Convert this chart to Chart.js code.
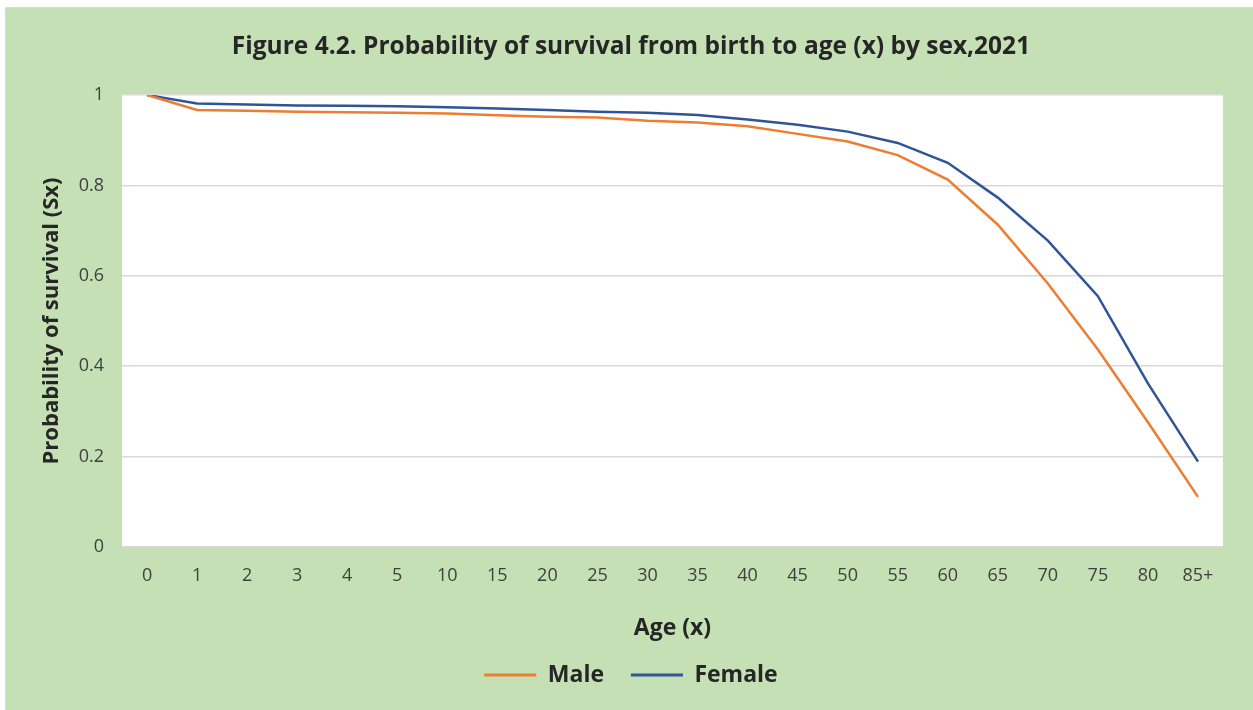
<!DOCTYPE html>
<html>
<head>
<meta charset="utf-8">
<script src="https://cdn.jsdelivr.net/npm/chart.js@4.4.0/dist/chart.umd.min.js"></script>
<style>
html,body{margin:0;padding:0;background:#ffffff;}
#wrap{position:absolute;left:0;top:0;width:1253px;height:710px;}
canvas{display:block;}
</style>
</head>
<body>
<div id="wrap"><canvas id="c" width="1253" height="710"></canvas></div>
<script>
const categories = ["0","1","2","3","4","5","10","15","20","25","30","35","40","45","50","55","60","65","70","75","80","85+"];
const maleValues = [1.000,0.967,0.965,0.963,0.962,0.961,0.959,0.955,0.952,0.950,0.943,0.939,0.931,0.914,0.897,0.867,0.813,0.713,0.583,0.437,0.276,0.111];
const femaleValues = [1.000,0.981,0.979,0.977,0.976,0.975,0.973,0.970,0.967,0.963,0.961,0.956,0.946,0.934,0.919,0.894,0.850,0.773,0.678,0.555,0.362,0.189];
const yTicks = [0,0.2,0.4,0.6,0.8,1];
const seriesNames = ["Male", "Female"];

const FONT = "'Open Sans', 'Noto Sans', sans-serif";
const TEXT = '#262626';

const bgPlugin = {
  id: 'bg',
  beforeDraw(chart) {
    const ctx = chart.ctx;
    ctx.save();
    ctx.fillStyle = '#ffffff';
    ctx.fillRect(0, 0, chart.width, chart.height);
    ctx.fillStyle = '#c5e0b4';
    ctx.fillRect(6, 8, chart.width - 6, chart.height - 8);
    ctx.strokeStyle = '#d9d9d9';
    ctx.lineWidth = 1;
    ctx.beginPath();
    ctx.moveTo(5.5, chart.height);
    ctx.lineTo(5.5, 7.5);
    ctx.lineTo(chart.width, 7.5);
    ctx.stroke();
    const a = chart.chartArea;
    ctx.fillStyle = '#ffffff';
    ctx.fillRect(a.left, a.top, a.right - a.left, a.bottom - a.top);
    ctx.restore();
  }
};

new Chart(document.getElementById('c'), {
  type: 'line',
  data: {
    labels: categories,
    datasets: [
      { label: seriesNames[0], data: maleValues, borderColor: '#ed7d31', backgroundColor: '#ed7d31', borderWidth: 2.5, pointRadius: 0, tension: 0, fill: false },
      { label: seriesNames[1], data: femaleValues, borderColor: '#2f5597', backgroundColor: '#2f5597', borderWidth: 2.5, pointRadius: 0, tension: 0, fill: false }
    ]
  },
  options: {
    responsive: false,
    animation: false,
    devicePixelRatio: 1,
    layout: { padding: { left: 39, right: 30, top: 0, bottom: 13.5 } },
    plugins: {
      title: {
        display: true,
        text: 'Figure 4.2. Probability of survival from birth to age (x) by sex,2021',
        color: TEXT,
        font: { family: FONT, size: 24.5, weight: 'bold' },
        padding: { top: 32.3, bottom: 33.3 }
      },
      legend: {
        display: true,
        position: 'bottom',
        labels: {
          color: TEXT,
          font: { family: FONT, size: 23, weight: 'bold' },
          boxWidth: 52,
          boxHeight: 3,
          padding: 9,
          generateLabels(chart) {
            return chart.data.datasets.map((d, i) => ({
              text: i === 0 ? d.label + '   ' : d.label,
              fillStyle: d.borderColor, strokeStyle: d.borderColor,
              lineWidth: 0, hidden: false, datasetIndex: i, fontColor: TEXT
            }));
          }
        }
      },
      tooltip: { enabled: false }
    },
    scales: {
      x: {
        offset: true,
        grid: { display: false, drawTicks: false },
        border: { display: false },
        ticks: { color: '#404040', font: { family: FONT, size: 18 }, padding: 18, maxRotation: 0, autoSkip: false },
        title: { display: true, text: 'Age (x)', color: TEXT, font: { family: FONT, size: 23, weight: 'bold' }, padding: { top: 12.7, bottom: 12.7 } },
        afterFit(s) { s.height = 107.5; }
      },
      y: {
        min: 0, max: 1,
        afterBuildTicks(s) { s.ticks = yTicks.map(v => ({ value: v })); },
        grid: { color: '#d9d9d9', lineWidth: 1.5, drawTicks: false },
        border: { display: false },
        ticks: { color: '#404040', font: { family: FONT, size: 18 }, padding: 18, callback: v => String(v) },
        title: { display: true, text: 'Probability of survival (Sx)', color: TEXT, font: { family: FONT, size: 22, weight: 'bold' }, padding: { top: 0, bottom: 0 } },
        afterFit(s) { s.width = 83; }
      }
    }
  },
  plugins: [bgPlugin]
});
</script>
</body>
</html>
